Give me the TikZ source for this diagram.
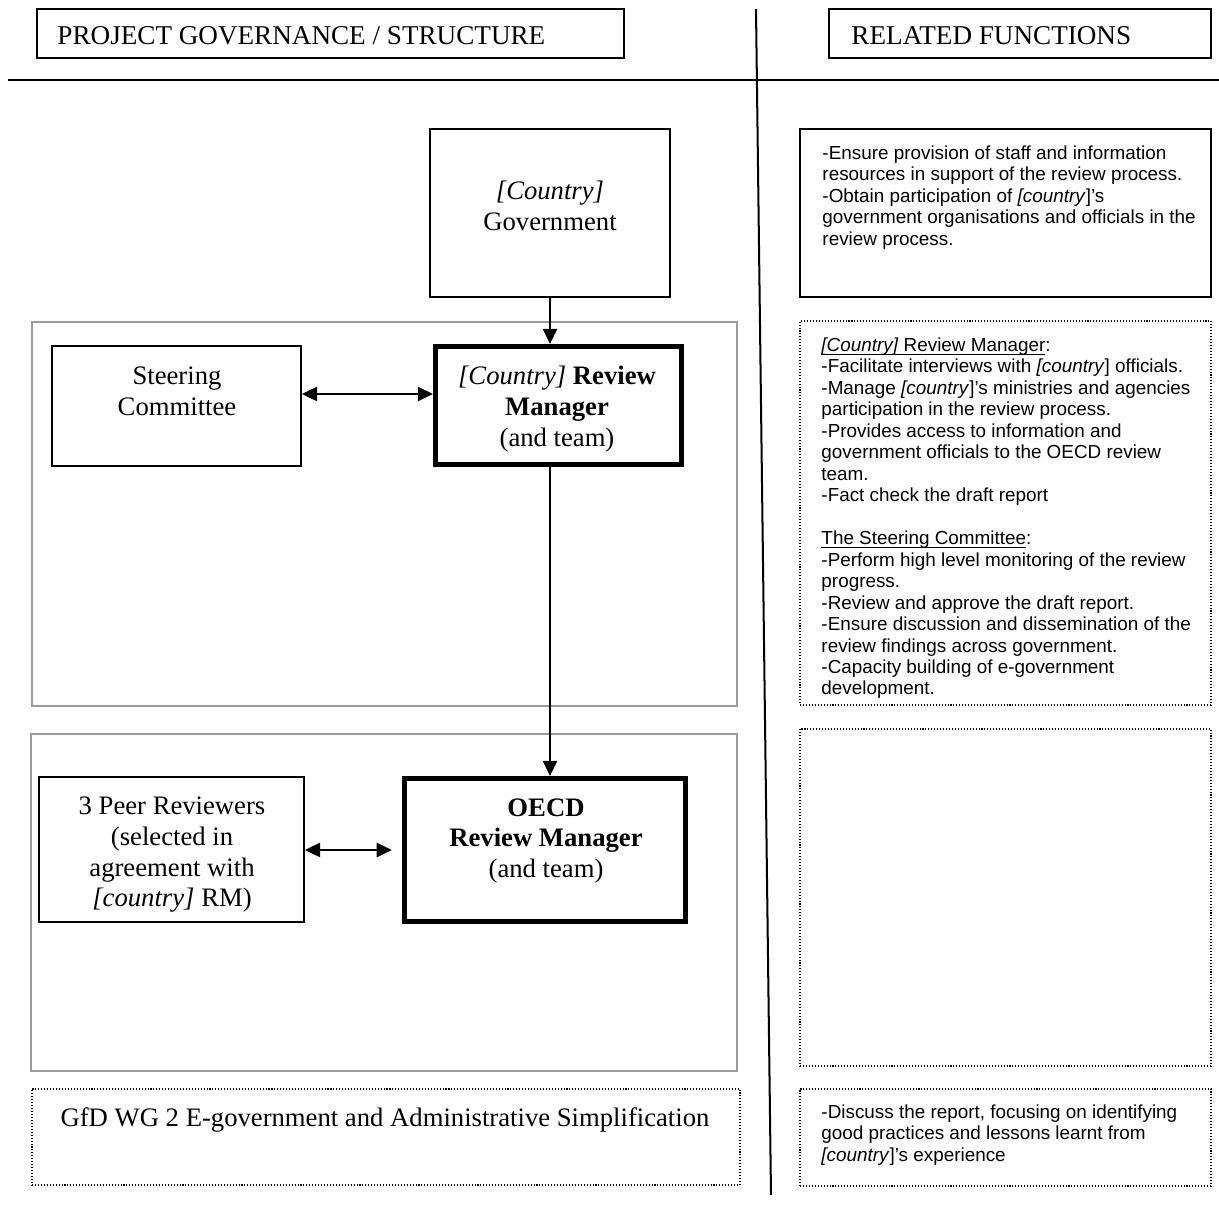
\documentclass[tikz,border=0pt]{standalone}
\usepackage{fontspec}
\setmainfont{Liberation Serif}
\newfontfamily\arialf{Liberation Sans}
\usetikzlibrary{arrows.meta,fit}
\definecolor{grayc}{RGB}{155,155,155}
\newlength\ulw
\newcommand\myul[1]{\settowidth\ulw{#1}\rlap{\rule[-1.4pt]{\ulw}{0.45pt}}#1}
\newcommand\astr{\rule{0pt}{8pt}}
\begin{document}
\begin{tikzpicture}[x=0.4237pt,y=-0.4237pt,
  thinbox/.style={draw=black, line width=0.8pt, inner sep=0pt},
  thickbox/.style={draw=black, line width=2.3pt, inner sep=0pt},
  greybox/.style={draw=grayc, line width=0.8pt, inner sep=0pt},
  dotbox/.style={draw=black, line width=0.6pt, dash pattern=on 0.45pt off 0.8pt, inner sep=0pt},
  tms/.style={font=\fontsize{11.3}{13}\selectfont, align=center, inner sep=0pt},
  hdr/.style={font=\fontsize{11.5}{13}\selectfont, inner sep=0pt, anchor=base west},
  ari/.style={font=\arialf\fontsize{8}{9.1}\selectfont, align=left, inner sep=0pt, anchor=north west},
  arr/.style={line width=0.85pt, -{Triangle[length=6.4pt,width=6pt]}},
  darr/.style={line width=0.85pt, {Triangle[length=6.4pt,width=6pt]}-{Triangle[length=6.4pt,width=6pt]}}
]
\useasboundingbox (0,0) rectangle (1219,1206);
\fill[white] (0,0) rectangle (1219,1206);

% header
\node[thinbox, fit={(37,9) (624,58)}] (h1) {};
\node[hdr] (h1t) at (57,44) {PROJECT GOVERNANCE / STRUCTURE};
\node[thinbox, fit={(829,9) (1211,58)}] (h2) {};
\node[hdr] (h2t) at (851,44) {RELATED FUNCTIONS};
\draw[line width=0.85pt] (8,80) -- (1219,80);
\draw[line width=0.85pt] (756,9) -- (771,1195);

% grey group boxes
\node[greybox, fit={(32,322) (737,706)}] (g1) {};
\node[greybox, fit={(31,734) (737,1071)}] (g2) {};
\node[dotbox, fit={(32,1089) (740,1185)}] (gfd) {};
\node[tms] (gfdt) at (385,1120) {GfD WG 2 E-government and Administrative Simplification};

% left boxes
\node[thinbox, fit={(430,129) (670,297)}] (gov) {};
\node[tms] (govt) at (550,206) {\textit{[Country]}\\Government};
\node[thinbox, fit={(52,346) (301,466)}] (steer) {};
\node[tms] (steert) at (177,391) {Steering\\Committee};
\node[thickbox, fit={(435.7,346.7) (681.3,464.3)}] (crm) {};
\node[tms] (crmt) at (557,409) {\textit{[Country]} \textbf{Review}\\\textbf{Manager}\\(and team)};
\node[thinbox, fit={(39,777) (304,922)}] (peer) {};
\node[tms] (peert) at (172,855) {3 Peer Reviewers\\(selected in\\agreement with\\\textit{[country]} RM)};
\node[thickbox, fit={(404.7,778.7) (685.3,921.3)}] (oecd) {};
\node[tms] (oecdt) at (546,841) {\textbf{OECD}\\\textbf{Review Manager}\\(and team)};

% connectors
\coordinate (ya) at (0,394);
\coordinate (yb) at (0,850);
\draw[arr] (gov.south) -- (gov.south |- crm.north);
\draw[arr] (crm.south -| gov.south) -- (oecd.north -| gov.south);
\draw[darr] (steer.east |- ya) -- (crm.west |- ya);
\draw[darr, shorten >=4.3pt] (peer.east |- yb) -- (oecd.west |- yb);

% right column
\node[thinbox, fit={(800,129) (1211,297)}] (r1) {};
\node[ari] (r1t) at (822,140) {\astr-Ensure provision of staff and information\\
resources in support of the review process.\\
-Obtain participation of \textit{[country}]’s\\
government organisations and officials in the\\
review process.};
\node[dotbox, fit={(800,321) (1211,705)}] (r2) {};
\node[ari] (r2t) at (821,332) {\astr\myul{\textit{[Country]} Review Manager}:\\
-Facilitate interviews with \textit{[country}] officials.\\
-Manage \textit{[country}]’s ministries and agencies\\
participation in the review process.\\
-Provides access to information and\\
government officials to the OECD review\\
team.\\
-Fact check the draft report\\[9.1pt]
\myul{The Steering Committee}:\\
-Perform high level monitoring of the review\\
progress.\\
-Review and approve the draft report.\\
-Ensure discussion and dissemination of the\\
review findings across government.\\
-Capacity building of e-government\\
development.};
\node[dotbox, fit={(800,729) (1211,1066)}] (r3) {};
\node[dotbox, fit={(800,1089) (1211,1186)}] (r4) {};
\node[ari] (r4t) at (821,1099) {\astr-Discuss the report, focusing on identifying\\
good practices and lessons learnt from\\
\textit{[country}]’s experience};
\end{tikzpicture}
\end{document}
